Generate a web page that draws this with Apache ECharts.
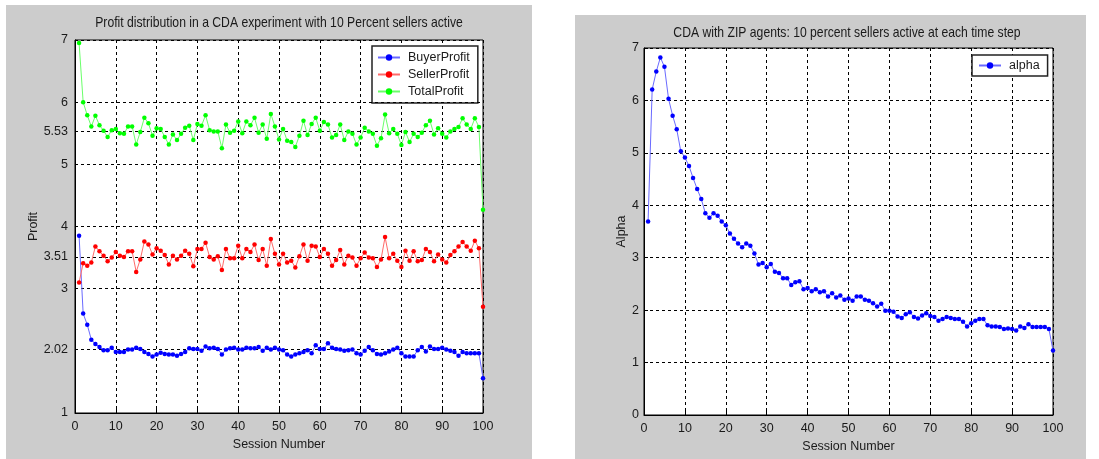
<!DOCTYPE html>
<html><head><meta charset="utf-8">
<script src="https://cdn.jsdelivr.net/npm/echarts@6/dist/echarts.min.js"></script>
<style>html,body{margin:0;padding:0;background:#fff}#c{width:1099px;height:459px}</style>
</head><body><div id="c"></div>
<script>
const sessions = [1,2,3,4,5,6,7,8,9,10,11,12,13,14,15,16,17,18,19,20,21,22,23,24,25,26,27,28,29,30,31,32,33,34,35,36,37,38,39,40,41,42,43,44,45,46,47,48,49,50,51,52,53,54,55,56,57,58,59,60,61,62,63,64,65,66,67,68,69,70,71,72,73,74,75,76,77,78,79,80,81,82,83,84,85,86,87,88,89,90,91,92,93,94,95,96,97,98,99,100];
const buyerProfit = [3.85,2.60,2.42,2.18,2.11,2.06,2.01,2.01,2.05,1.98,1.98,1.98,2.02,2.02,2.05,2.03,1.98,1.95,1.91,1.94,1.97,1.95,1.94,1.94,1.92,1.95,1.98,2.04,2.03,2.03,2.00,2.07,2.04,2.05,2.03,1.94,2.02,2.04,2.05,2.02,2.02,2.05,2.04,2.04,2.06,2.00,2.05,2.02,2.05,2.02,2.01,1.94,1.91,1.94,1.96,1.98,2.01,1.96,2.09,2.03,2.03,2.12,2.05,2.03,2.02,2.00,2.01,2.02,1.96,1.94,2.00,2.06,2.01,1.95,1.94,1.96,1.99,2.02,2.05,1.96,1.91,1.91,1.91,2.01,2.06,1.99,2.07,2.03,2.03,2.05,2.02,2.00,1.98,1.92,1.98,1.96,1.96,1.96,1.96,1.56];
const sellerProfit = [3.10,3.41,3.37,3.42,3.68,3.60,3.53,3.44,3.50,3.59,3.53,3.51,3.60,3.60,3.27,3.47,3.76,3.71,3.55,3.65,3.61,3.54,3.39,3.53,3.47,3.53,3.61,3.56,3.36,3.64,3.64,3.74,3.51,3.47,3.52,3.30,3.64,3.49,3.49,3.69,3.49,3.64,3.59,3.71,3.46,3.64,3.37,3.80,3.56,3.39,3.56,3.42,3.45,3.34,3.52,3.71,3.45,3.69,3.68,3.51,3.64,3.56,3.37,3.46,3.62,3.39,3.53,3.50,3.37,3.49,3.58,3.50,3.49,3.35,3.47,3.83,3.49,3.56,3.45,3.35,3.61,3.45,3.60,3.44,3.46,3.64,3.59,3.44,3.55,3.47,3.42,3.54,3.60,3.68,3.75,3.68,3.61,3.77,3.65,2.71];
const totalProfit = [6.95,6.00,5.79,5.61,5.78,5.63,5.54,5.44,5.55,5.57,5.50,5.49,5.61,5.61,5.32,5.52,5.75,5.66,5.46,5.58,5.57,5.44,5.32,5.48,5.39,5.49,5.59,5.62,5.39,5.65,5.62,5.79,5.55,5.53,5.53,5.26,5.64,5.51,5.54,5.69,5.50,5.69,5.63,5.75,5.51,5.64,5.41,5.81,5.61,5.40,5.57,5.38,5.36,5.28,5.46,5.70,5.47,5.65,5.75,5.54,5.68,5.64,5.43,5.47,5.64,5.39,5.53,5.49,5.32,5.43,5.59,5.53,5.49,5.30,5.42,5.80,5.50,5.57,5.49,5.31,5.52,5.36,5.49,5.44,5.51,5.63,5.70,5.48,5.58,5.49,5.43,5.53,5.57,5.60,5.74,5.64,5.57,5.74,5.60,4.27];
const alpha = [3.69,6.21,6.55,6.82,6.64,6.03,5.71,5.45,5.03,4.91,4.75,4.52,4.31,4.12,3.85,3.76,3.85,3.80,3.69,3.62,3.46,3.36,3.27,3.20,3.27,3.23,3.08,2.87,2.90,2.82,2.88,2.73,2.71,2.61,2.61,2.48,2.53,2.55,2.40,2.42,2.36,2.40,2.34,2.36,2.26,2.32,2.24,2.28,2.20,2.22,2.18,2.26,2.26,2.20,2.18,2.13,2.07,2.12,1.99,1.99,1.97,1.88,1.85,1.92,1.96,1.87,1.84,1.90,1.94,1.89,1.87,1.80,1.83,1.87,1.85,1.83,1.83,1.78,1.69,1.75,1.80,1.83,1.83,1.71,1.69,1.69,1.68,1.64,1.65,1.64,1.61,1.69,1.66,1.73,1.68,1.68,1.68,1.68,1.64,1.23];
const profitTicks = [1, 2.02, 3, 3.51, 4, 5, 5.53, 6, 7];
const alphaTicks = [0, 1, 2, 3, 4, 5, 6, 7];
const sessionTicks = [0, 10, 20, 30, 40, 50, 60, 70, 80, 90, 100];
const leftTitle = 'Profit distribution in a CDA experiment with 10 Percent sellers active';
const rightTitle = 'CDA with ZIP agents: 10 percent sellers active at each time step';

const FONT = "'Liberation Sans',Arial,sans-serif";
const FS = 12.5;
const TXT = '#1a1a1a';
const pairs = (ys) => sessions.map((s, i) => [s, ys[i]]);
const dash = {color: '#000', width: 1, type: [3, 3]};

const chart = echarts.init(document.getElementById('c'), null, {renderer: 'canvas'});

function xAxis(gi) {
  return {
    gridIndex: gi, type: 'value', min: 0, max: 100, interval: 10,
    name: 'Session Number', nameLocation: 'middle', nameGap: 25,
    nameTextStyle: {fontFamily: FONT, fontSize: FS, color: TXT},
    axisLine: {show: true, onZero: false, lineStyle: {color: '#000', width: 1}},
    axisTick: {show: true, inside: true, length: 4, lineStyle: {color: '#000'}},
    axisLabel: {fontFamily: FONT, fontSize: FS, color: TXT, margin: 7,
      formatter: v => sessionTicks.includes(v) ? String(v) : ''},
    splitLine: {show: true, lineStyle: dash}
  };
}
function lineSeries(name, color, lineColor, data, xi, yi) {
  return {
    name, type: 'line', xAxisIndex: xi, yAxisIndex: yi, data,
    symbol: 'circle', symbolSize: 4.5, showSymbol: true, z: 5,
    itemStyle: {color}, lineStyle: {color: lineColor, width: 1},
    emphasis: {disabled: true}, animation: false
  };
}

const option = {
  animation: false,
  backgroundColor: '#ffffff',
  graphic: [
    {type: 'rect', shape: {x: 6, y: 5, width: 526, height: 454}, style: {fill: '#cccccc'}, z: -10},
    {type: 'rect', shape: {x: 575, y: 15, width: 511, height: 444}, style: {fill: '#cccccc'}, z: -10},
    {type: 'text', x: 279, y: 23, scaleX: 0.84, style: {text: leftTitle, fontFamily: FONT, fontSize: 14.5, fill: TXT, align: 'center', verticalAlign: 'middle'}},
    {type: 'text', x: 847, y: 33, scaleX: 0.84, style: {text: rightTitle, fontFamily: FONT, fontSize: 14.5, fill: TXT, align: 'center', verticalAlign: 'middle'}}
  ],
  grid: [
    {left: 75, top: 40, width: 408, height: 373, show: true, backgroundColor: '#fff', borderColor: '#000', borderWidth: 1, containLabel: false},
    {left: 644, top: 48, width: 409, height: 367, show: true, backgroundColor: '#fff', borderColor: '#000', borderWidth: 1, containLabel: false}
  ],
  legend: [
    {data: ['BuyerProfit', 'SellerProfit', 'TotalProfit'], orient: 'vertical', left: 372, top: 46,
      padding: [5, 8, 5, 5], itemGap: 4, itemWidth: 22, itemHeight: 8,
      backgroundColor: '#fff', borderColor: '#222', borderWidth: 1.5,
      textStyle: {fontFamily: FONT, fontSize: FS, color: TXT, padding: [0, 0, 0, 3]}, selectedMode: false},
    {data: ['alpha'], orient: 'vertical', left: 972, top: 55,
      padding: [4, 8, 4, 6], itemWidth: 22, itemHeight: 8,
      backgroundColor: '#fff', borderColor: '#222', borderWidth: 1.5,
      textStyle: {fontFamily: FONT, fontSize: FS, color: TXT, padding: [0, 0, 0, 3]}, selectedMode: false}
  ],
  xAxis: [xAxis(0), xAxis(1)],
  yAxis: [
    {gridIndex: 0, type: 'value', min: 1, max: 7, interval: 0.01,
      name: 'Profit', nameLocation: 'middle', nameGap: 24,
      nameTextStyle: {fontFamily: FONT, fontSize: FS, color: TXT},
      axisLine: {show: true, lineStyle: {color: '#000'}},
      axisTick: {show: false},
      axisLabel: {fontFamily: FONT, fontSize: FS, color: TXT, margin: 7, showMinLabel: true, showMaxLabel: true,
        formatter: v => {const r = Math.round(v * 100) / 100; return profitTicks.includes(r) ? String(r) : '';}},
      splitLine: {show: false}},
    {gridIndex: 1, type: 'value', min: 0, max: 7, interval: 1,
      name: 'Alpha', nameLocation: 'middle', nameGap: 16,
      nameTextStyle: {fontFamily: FONT, fontSize: FS, color: TXT},
      axisLine: {show: true, lineStyle: {color: '#000'}},
      axisTick: {show: true, inside: true, length: 4, lineStyle: {color: '#000'}},
      axisLabel: {fontFamily: FONT, fontSize: FS, color: TXT, margin: 5,
        formatter: v => alphaTicks.includes(v) ? String(v) : ''},
      splitLine: {show: true, lineStyle: dash}}
  ],
  series: [
    {name: 'grid-h', type: 'line', xAxisIndex: 0, yAxisIndex: 0, data: [], z: 1, silent: true,
      markLine: {silent: true, symbol: 'none', label: {show: false}, animation: false,
        lineStyle: dash, emphasis: {disabled: true},
        data: profitTicks.map(v => ({yAxis: v}))}},
    lineSeries('BuyerProfit', '#0000ff', '#6a6aff', pairs(buyerProfit), 0, 0),
    lineSeries('SellerProfit', '#ff0000', '#ff6a6a', pairs(sellerProfit), 0, 0),
    lineSeries('TotalProfit', '#00ff00', '#6aff6a', pairs(totalProfit), 0, 0),
    lineSeries('alpha', '#0000ff', '#6a6aff', pairs(alpha), 1, 1)
  ]
};
chart.setOption(option);
</script></body></html>
